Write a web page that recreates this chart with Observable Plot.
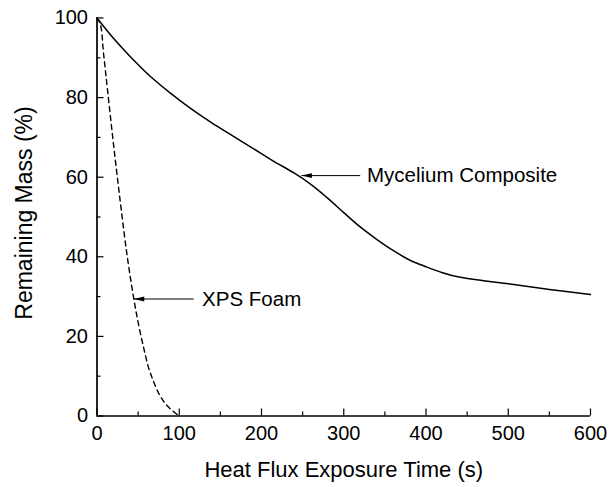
<!DOCTYPE html>
<html>
<head>
<meta charset="utf-8">
<script src="https://cdn.jsdelivr.net/npm/d3@7"></script>
<script src="https://cdn.jsdelivr.net/npm/@observablehq/plot@0.6"></script>
<style>
  html, body { margin: 0; padding: 0; background: #fff; }
  #chart { width: 611px; height: 487px; }
</style>
</head>
<body>
<div id="chart"></div>
<script>
// ---- Data ----
const myceliumTime = [0, 20, 40, 65, 90, 115, 140, 165, 190, 215, 240, 260, 280, 300, 320, 340, 360, 380, 400, 420, 440, 470, 500, 550, 600];
const myceliumMass = [100, 94.9, 90.4, 85.3, 81.0, 77.1, 73.6, 70.4, 67.2, 64.0, 61.0, 58.2, 54.8, 51.1, 47.5, 44.4, 41.6, 39.2, 37.5, 36.0, 34.9, 34.0, 33.2, 31.8, 30.5];

const xpsTime = [0, 4, 8, 13, 20.5, 28.5, 36.5, 44.7, 50.8, 56.9, 62.6, 68.7, 75.1, 82, 89.3, 100];
const xpsMass = [100, 98.5, 91, 81.5, 67.5, 53.5, 40.5, 29.5, 22.7, 17.0, 12.2, 8.7, 5.65, 3.4, 1.76, 0];

const xMajorTicks = [0, 100, 200, 300, 400, 500, 600];
const xMinorTicks = [50, 150, 250, 350, 450, 550];
const yMajorTicks = [0, 20, 40, 60, 80, 100];
const yMinorTicks = [10, 30, 50, 70, 90];

const annoLabels = ["Mycelium Composite", "XPS Foam"];
const annoTipX   = [248.5, 44.7];
const annoTailX  = [320, 117.6];
const annoTextX  = [328.3, 127.8];
const annoY      = [60.4, 29.4];

const xTitle = "Heat Flux Exposure Time (s)";
const yTitle = "Remaining Mass (%)";

// ---- Build tables ----
const mycelium = myceliumTime.map((t, i) => ({t, m: myceliumMass[i]}));
const xps = xpsTime.map((t, i) => ({t, m: xpsMass[i]}));
const annos = annoLabels.map((label, i) => ({label, tip: annoTipX[i], tail: annoTailX[i], tx: annoTextX[i], y: annoY[i]}));

const W = 611, H = 487;
const mL = 96.5, mR = 21, mT = 17.5, mB = 71.5;
const frameW = W - mL - mR, frameH = H - mT - mB;

const arrowHead = {
  draw(context) {
    context.moveTo(0, 0);
    context.lineTo(10.5, -2.4);
    context.lineTo(10.5, 2.4);
    context.closePath();
  }
};

const chart = Plot.plot({
  width: W,
  height: H,
  marginLeft: mL,
  marginRight: mR,
  marginTop: mT,
  marginBottom: mB,
  style: {fontFamily: "'Liberation Sans', Arial, sans-serif", fontSize: "20px", color: "#000", background: "#fff", overflow: "visible"},
  x: {domain: [0, 600], ticks: xMajorTicks, tickSize: 0, tickPadding: 10, label: null},
  y: {domain: [0, 100], ticks: yMajorTicks, tickSize: 0, tickPadding: 9, label: null},
  marks: [
    // inward ticks
    Plot.tickX(xMajorTicks, {x: d => d, insetTop: frameH - 7, stroke: "#000", strokeWidth: 1.2}),
    Plot.tickX(xMinorTicks, {x: d => d, insetTop: frameH - 4, stroke: "#000", strokeWidth: 1.2}),
    Plot.tickY(yMajorTicks, {y: d => d, insetRight: frameW - 7, stroke: "#000", strokeWidth: 1.2}),
    Plot.tickY(yMinorTicks, {y: d => d, insetRight: frameW - 4, stroke: "#000", strokeWidth: 1.2}),
    // axis lines
    Plot.ruleX([0], {stroke: "#000", strokeWidth: 1.7}),
    Plot.ruleY([0], {stroke: "#000", strokeWidth: 1.7}),
    // series
    Plot.line(mycelium, {x: "t", y: "m", curve: "catmull-rom", stroke: "#000", strokeWidth: 1.5}),
    Plot.line(xps, {x: "t", y: "m", curve: "catmull-rom", stroke: "#000", strokeWidth: 1.4, strokeDasharray: "5,4"}),
    // annotations
    Plot.link(annos, {x1: "tip", x2: "tail", y1: "y", y2: "y", stroke: "#000", strokeWidth: 1}),
    Plot.dot(annos, {x: "tip", y: "y", symbol: arrowHead, fill: "#000", stroke: "none"}),
    Plot.text(annos, {x: "tx", y: "y", text: "label", textAnchor: "start", fontSize: 20.5, fill: "#000"}),
    // axis titles
    Plot.text([xTitle], {frameAnchor: "bottom", text: d => d, textAnchor: "middle", lineAnchor: "middle", dy: 54, fontSize: 22, fill: "#000"}),
    Plot.text([yTitle], {frameAnchor: "left", text: d => d, textAnchor: "middle", lineAnchor: "middle", rotate: -90, dx: -72, dy: -4, fontSize: 23, fill: "#000"})
  ]
});

document.getElementById("chart").appendChild(chart);
</script>
</body>
</html>
